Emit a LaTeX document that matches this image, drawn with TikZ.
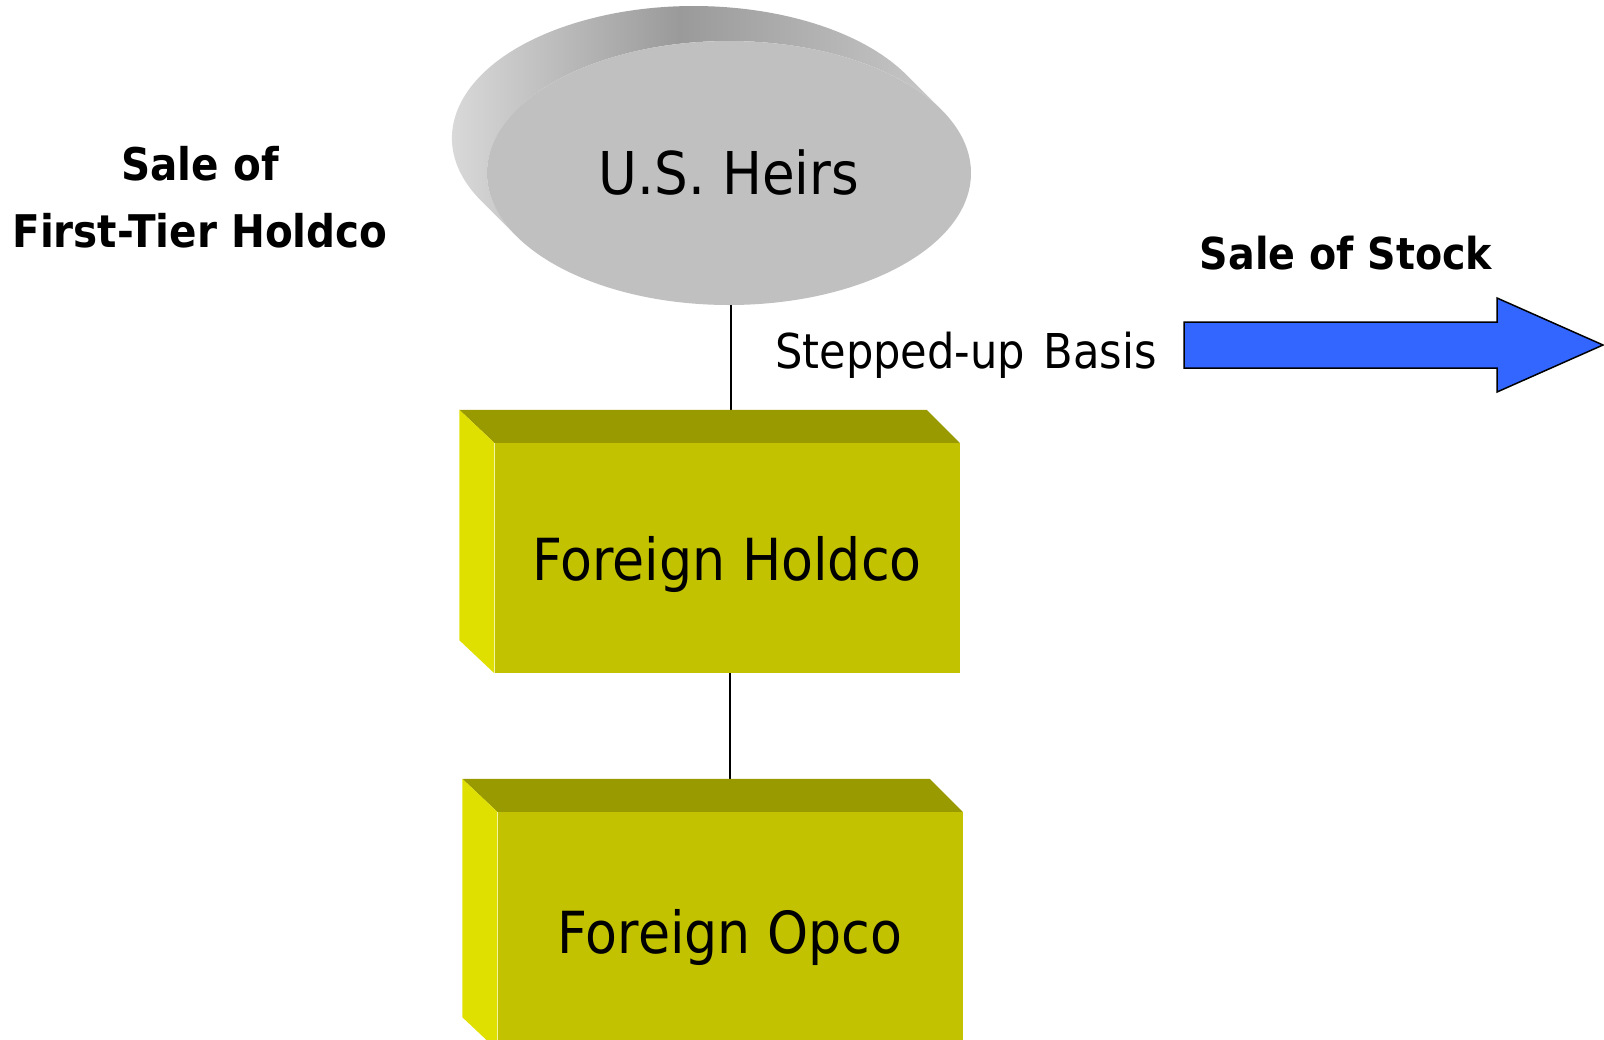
\documentclass[tikz,border=0pt]{standalone}
\usepackage{fontspec}
\setmainfont[FakeStretch=0.9]{DejaVu Sans}
\usepackage{tikz}
\usetikzlibrary{calc}
\usetikzlibrary{shapes.geometric}

\definecolor{olive}{RGB}{194,194,0}
\definecolor{olivetop}{RGB}{153,153,0}
\definecolor{oliveside}{RGB}{224,224,0}
\definecolor{heirgray}{RGB}{192,192,192}
\definecolor{heirleft}{RGB}{226,226,226}
\definecolor{heirmid}{RGB}{154,154,154}
\definecolor{heirright}{RGB}{200,200,200}
\definecolor{salearrow}{RGB}{51,102,255}

\begin{document}
\begin{tikzpicture}[x=1pt,y=-1pt,
    facebox/.style={rectangle,fill=olive,inner sep=0pt,minimum width=465pt,text depth=0pt,font=\fontsize{58}{60}\selectfont},
    boxtop/.style={fill=olivetop},
    boxside/.style={fill=oliveside},
    heirside/.style={left color=heirleft,right color=heirright,middle color=heirmid},
    label/.style={font=\bfseries\fontsize{45}{67}\selectfont,align=center}]
    \clip (0,0) rectangle (1604,1039);
    \coordinate (heirsc) at (729,173);
    \shade[heirside] ($(heirsc)+(-35,-35)+(-212.5,63.2)$) arc[start angle=151.4, end angle=331.4, x radius=242, y radius=132]
        -- ($(heirsc)+(212.5,-63.2)$) arc[start angle=331.4, end angle=151.4, x radius=242, y radius=132] -- cycle;
    \node[ellipse,fill=heirgray,inner sep=0pt,minimum width=484pt,minimum height=264pt,
        font=\fontsize{59}{60}\selectfont] (heirs) at (heirsc) {U.S. Heirs};
    \node[facebox,minimum height=230pt] (holdco) at (727,558) {Foreign Holdco};
    \node[facebox,minimum height=238pt] (opco) at (730,931) {Foreign Opco};
    \draw[line width=1.5pt] ([xshift=2pt]heirs.south) -- ([xshift=2pt]heirs.south |- holdco.north);
    \draw[line width=1.5pt] ([xshift=3pt]holdco.south) -- ([xshift=3pt]holdco.south |- opco.north);
    \fill[boxtop] (holdco.north west) -- ++(-35,-33) -- ($(holdco.north east)+(-33,-33)$) -- (holdco.north east) -- cycle;
    \fill[boxside] (holdco.north west) -- ++(-35,-33) -- ($(holdco.south west)+(-35,-33)$) -- (holdco.south west) -- cycle;
    \fill[boxtop] (opco.north west) -- ++(-35,-33) -- ($(opco.north east)+(-33,-33)$) -- (opco.north east) -- cycle;
    \fill[boxside] (opco.north west) -- ++(-35,-33) -- ($(opco.south west)+(-35,-33)$) -- (opco.south west) -- cycle;
    \node[label] (firsttier) at (200,197) {Sale of\\First-Tier Holdco};
    \node[label,font=\bfseries\fontsize{44}{67}\selectfont] (salestock) at (1346,253) {Sale of Stock};
    \node[font=\fontsize{48}{50}\selectfont] (basis) at (966,355) {Stepped-up\hspace{0.1em} Basis};
    \draw[fill=salearrow,line width=1.5pt] (1184,322) -- (1497,322) -- (1497,298) -- (1603,345) -- (1497,392) -- (1497,368) -- (1184,368) -- cycle;
\end{tikzpicture}
\end{document}
